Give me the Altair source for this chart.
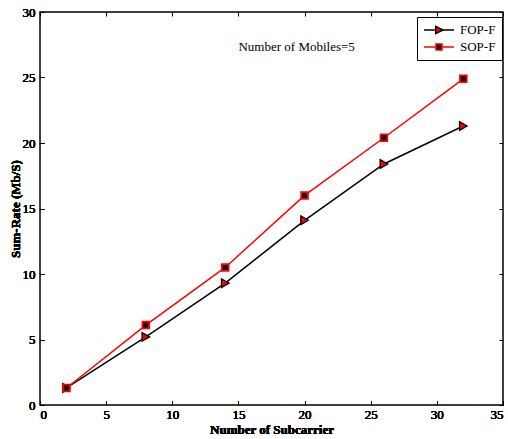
import altair as alt
import pandas as pd

subcarriers = [2, 8, 14, 20, 26, 32]
fop_f = [1.3, 5.2, 9.3, 14.1, 18.4, 21.3]
sop_f = [1.3, 6.1, 10.5, 16.0, 20.4, 24.9]
series_names = ["FOP-F", "SOP-F"]
annotation = ["Number of Mobiles=5"]
annot_x = [19.4]
annot_y = [27.3]

rows = []
for x, a, b in zip(subcarriers, fop_f, sop_f):
    rows.append({"x": x, "y": a, "series": series_names[0]})
    rows.append({"x": x, "y": b, "series": series_names[1]})
df = pd.DataFrame(rows)
ann = pd.DataFrame({"x": annot_x, "y": annot_y, "t": annotation})

FONT = "Liberation Serif"
xscale = alt.Scale(domain=[0, 35], nice=False, zero=False)
yscale = alt.Scale(domain=[0, 30], nice=False, zero=False)
tick = 4

xb = alt.X("x:Q", scale=xscale, title="Number of Subcarrier",
           axis=alt.Axis(orient="bottom", values=list(range(0, 36, 5)), offset=-tick,
                         tickSize=tick, labelPadding=tick - 1, domain=False, grid=False,
                         titlePadding=2))
yl = alt.Y("y:Q", scale=yscale, title="Sum-Rate (Mb/S)",
           axis=alt.Axis(orient="left", values=list(range(0, 31, 5)), offset=-tick,
                         tickSize=tick, labelPadding=1 + tick, domain=False, grid=False,
                         titlePadding=0))
xt = alt.X("x:Q", scale=xscale, title=None,
           axis=alt.Axis(orient="top", values=list(range(0, 36, 5)), offset=-tick,
                         tickSize=tick, labels=False, domain=False, grid=False))
yr = alt.Y("y:Q", scale=yscale, title=None,
           axis=alt.Axis(orient="right", values=list(range(0, 31, 5)), offset=-tick,
                         tickSize=tick, labels=False, domain=False, grid=False))

base = alt.Chart(df)

line_f = base.transform_filter(alt.datum.series == "FOP-F").mark_line(
    color="black", strokeWidth=1.5).encode(x=xb, y=yl)
line_s = base.transform_filter(alt.datum.series == "SOP-F").mark_line(
    color="red", strokeWidth=1.5).encode(x=xb, y=yl)
pt_f = base.transform_filter(alt.datum.series == "FOP-F").mark_point(
    shape="triangle-right", fill="red", stroke="black", strokeWidth=1.3,
    filled=False, opacity=1, fillOpacity=1, size=75).encode(x=xb, y=yl)
pt_s = base.transform_filter(alt.datum.series == "SOP-F").mark_point(
    shape="square", fill="black", stroke="red", strokeWidth=1.8,
    filled=False, opacity=1, fillOpacity=1, size=45).encode(x=xb, y=yl)

# legend glyphs: line segment with the marker in its middle (unit = half width)
leg_tri = "M-1,0L-0.22,0M-0.22,-0.24L0.28,0L-0.22,0.24ZM0.28,0L1,0"
leg_sq = "M-1,0L-0.2,0M-0.2,-0.2L0.2,-0.2L0.2,0.2L-0.2,0.2ZM0.2,0L1,0"

legend_layer = base.mark_point(opacity=0, filled=False).encode(
    x=xb, y=yl,
    shape=alt.Shape("series:N", scale=alt.Scale(domain=series_names, range=[leg_tri, leg_sq]),
                    legend=alt.Legend(title=None)),
    fill=alt.Fill("series:N", scale=alt.Scale(domain=series_names, range=["red", "black"]),
                  legend=alt.Legend(title=None)),
    stroke=alt.Stroke("series:N", scale=alt.Scale(domain=series_names, range=["black", "red"]),
                      legend=alt.Legend(title=None)),
)

text = alt.Chart(ann).mark_text(font=FONT, fontSize=13, color="black").encode(
    x=xb, y=yl, text="t:N")

top_right = alt.Chart(df).mark_point(opacity=0).encode(x=xt, y=yr)

chart = alt.layer(
    line_f, line_s, pt_f, pt_s, legend_layer, text, top_right
).resolve_axis(x="independent", y="independent").properties(
    width=463, height=393,
    autosize=alt.AutoSizeParams(type="none"),
    padding={"left": 40, "top": 12, "right": 5, "bottom": 34},
).configure_view(stroke="black", strokeWidth=1.5).configure_axis(
    labelFont=FONT, labelFontSize=13, labelColor="black",
    titleFont=FONT, titleFontSize=13, titleFontWeight="bold", titleColor="black",
    tickColor="black", tickWidth=1,
).configure_legend(
    orient="none", legendX=377, legendY=5,
    labelFont=FONT, labelFontSize=13, labelColor="black",
    symbolSize=900, symbolStrokeWidth=1.5, symbolOpacity=1, symbolFillColor="red",
    strokeColor="black", fillColor="white", padding=6, rowPadding=3,
    labelOffset=5, clipHeight=14,
)

chart.save("out.html", embed_options={"renderer": "svg", "actions": False})
